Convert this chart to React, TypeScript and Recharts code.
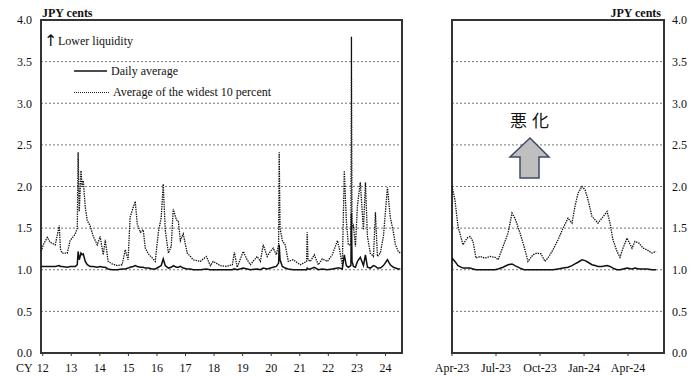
import React from 'react';
import { LineChart, Line, XAxis, YAxis, CartesianGrid, ReferenceArea } from 'recharts';

const FONT = '"Liberation Serif", "Times New Roman", serif';

// Left panel: calendar years (CY 2012 - mid 2024)
const leftT = [
  11.95, 12.02, 12.16, 12.26, 12.44, 12.58, 12.62, 12.68, 12.86, 12.96, 13.14, 13.21, 13.24, 13.28, 13.34, 13.38,
  13.42, 13.49, 13.56, 13.66, 13.77, 13.91, 14.01, 14.12, 14.19, 14.29, 14.43, 14.61, 14.78, 14.89, 14.99, 15.06,
  15.17, 15.24, 15.31, 15.42, 15.52, 15.59, 15.7, 15.84, 15.94, 16.05, 16.15, 16.22, 16.29, 16.4, 16.5, 16.57,
  16.68, 16.75, 16.82, 16.92, 17.06, 17.17, 17.27, 17.52, 17.73, 17.87, 17.97, 18.22, 18.43, 18.64, 18.71, 18.81,
  19.02, 19.16, 19.27, 19.51, 19.62, 19.72, 19.86, 19.97, 20.07, 20.18, 20.26, 20.28, 20.31, 20.39, 20.49, 20.6,
  20.77, 21.02, 21.24, 21.26, 21.29, 21.37, 21.51, 21.65, 21.79, 21.97, 22.14, 22.32, 22.39, 22.49, 22.56, 22.63,
  22.7, 22.79, 22.81, 22.83, 22.88, 22.95, 23.02, 23.12, 23.23, 23.3, 23.37, 23.47, 23.58, 23.65, 23.72, 23.82,
  23.93, 24.07, 24.17, 24.28, 24.35, 24.45, 24.52,
];
const leftWidest = [
  1.22, 1.3, 1.39, 1.33, 1.3, 1.53, 1.25, 1.2, 1.2, 1.35, 1.43, 1.5, 2.41, 1.7, 2.19, 2.0,
  2.07, 1.75, 1.59, 1.53, 1.4, 1.3, 1.4, 1.18, 1.36, 1.1, 1.07, 1.05, 1.06, 1.24, 1.12, 1.63,
  1.75, 1.82, 1.55, 1.45, 1.48, 1.26, 1.19, 1.14, 1.1, 1.45, 1.63, 2.03, 1.48, 1.2, 1.28, 1.73,
  1.6, 1.58, 1.35, 1.43, 1.2, 1.16, 1.12, 1.1, 1.16, 1.05, 1.1, 1.05, 1.04, 1.06, 1.21, 1.03,
  1.22, 1.12, 1.06, 1.16, 1.1, 1.3, 1.16, 1.22, 1.26, 1.18, 1.3, 2.41, 1.5, 1.35, 1.3, 1.1,
  1.12, 1.06, 1.1, 1.45, 1.12, 1.1, 1.18, 1.06, 1.13, 1.1, 1.18, 1.35, 1.25, 1.05, 2.19, 1.6,
  1.3, 1.3, 3.8, 1.5, 1.53, 1.28, 1.77, 2.05, 1.48, 2.05, 1.4, 1.2, 1.16, 1.69, 1.16, 1.2,
  1.4, 1.99, 1.63, 1.45, 1.3, 1.22, 1.2,
];
const leftDaily = [
  1.04, 1.04, 1.04, 1.04, 1.04, 1.05, 1.04, 1.04, 1.03, 1.04, 1.04, 1.06, 1.22, 1.12, 1.2, 1.18,
  1.19, 1.1, 1.06, 1.04, 1.04, 1.03, 1.04, 1.03, 1.03, 1.01, 1.0, 1.0, 1.01, 1.01, 1.02, 1.03,
  1.04, 1.05, 1.04, 1.03, 1.03, 1.02, 1.02, 1.01, 1.01, 1.03, 1.05, 1.13, 1.05, 1.02, 1.03, 1.05,
  1.03, 1.03, 1.04, 1.02, 1.01, 1.01, 1.0, 1.0, 1.01, 1.0, 1.0, 1.0, 1.0, 1.0, 1.01, 1.0,
  1.02, 1.01, 1.0, 1.01, 1.0, 1.02, 1.01, 1.02, 1.03, 1.04, 1.08, 1.3, 1.12, 1.04, 1.02, 1.01,
  1.0, 1.0, 1.0, 1.02, 1.01, 1.01, 1.03, 1.0, 1.01, 1.0, 1.01, 1.02, 1.02, 1.01, 1.18, 1.05,
  1.03, 1.05, 1.68, 1.1, 1.04, 1.03, 1.1, 1.15, 1.05, 1.18, 1.03, 1.02, 1.05, 1.04, 1.02, 1.02,
  1.05, 1.12, 1.06, 1.03, 1.02, 1.01, 1.01,
];
const yearTicks = [12, 13, 14, 15, 16, 17, 18, 19, 20, 21, 22, 23, 24];

// Right panel: months since April 2023
const rightM = [
  0, 0.2, 0.41, 0.75, 1.02, 1.23, 1.43, 1.64, 1.91, 2.25, 2.59, 2.93, 3.14, 3.48, 3.82, 4.09,
  4.29, 4.64, 4.91, 5.18, 5.52, 5.79, 6.07, 6.34, 6.61, 6.88, 7.23, 7.57, 7.91, 8.18, 8.38, 8.59,
  8.86, 9.07, 9.27, 9.54, 9.75, 9.95, 10.22, 10.57, 10.77, 10.97, 11.25, 11.45, 11.66, 11.93, 12.27, 12.47,
  12.75, 13.02, 13.29, 13.63, 13.91,
];
const rightWidest = [
  2.0, 1.84, 1.52, 1.3, 1.38, 1.4, 1.34, 1.14, 1.16, 1.14, 1.16, 1.15, 1.12, 1.28, 1.44, 1.68,
  1.62, 1.44, 1.28, 1.1, 1.18, 1.2, 1.19, 1.1, 1.16, 1.24, 1.36, 1.5, 1.62, 1.56, 1.76, 1.92,
  2.0, 1.96, 1.84, 1.64, 1.6, 1.56, 1.62, 1.7, 1.56, 1.36, 1.22, 1.15, 1.26, 1.38, 1.26, 1.34,
  1.32, 1.26, 1.24, 1.2, 1.22,
];
const rightDaily = [
  1.14, 1.1, 1.05, 1.02, 1.02, 1.02, 1.01, 1.0, 1.0, 1.0, 1.0, 1.0, 1.01, 1.03, 1.06, 1.07,
  1.05, 1.02, 1.0, 1.0, 1.0, 1.0, 1.0, 1.0, 1.0, 1.0, 1.01, 1.02, 1.03, 1.05, 1.07, 1.09,
  1.12, 1.11, 1.09, 1.06, 1.05, 1.04, 1.04, 1.05, 1.04, 1.02, 1.0, 1.0, 1.01, 1.02, 1.01, 1.02,
  1.01, 1.01, 1.01, 1.0, 1.0,
];
const monthTicks = [0, 3, 6, 9, 12];
const monthLabels = ['Apr-23', 'Jul-23', 'Oct-23', 'Jan-24', 'Apr-24'];

const yTicks = [0, 0.5, 1, 1.5, 2, 2.5, 3, 3.5, 4];

const leftRows = leftT.map((t, i) => ({ t, widest: leftWidest[i], daily: leftDaily[i] }));
const rightRows = rightM.map((m, i) => ({ m, widest: rightWidest[i], daily: rightDaily[i] }));

const tickStyle = { fill: '#111', fontSize: 12, fontFamily: FONT };

const LEFT_DOMAIN: [number, number] = [11.94, 24.58];
const RIGHT_DOMAIN: [number, number] = [0, 14.45];

const css = `.recharts-text, .recharts-cartesian-axis-tick-value { font-family: "Liberation Serif", "Times New Roman", serif !important; }`;

export default function App() {
  return (
    <div style={{ position: 'absolute', left: 0, top: 0, width: 692, height: 376, background: '#fff', fontFamily: FONT }}>
      <style>{css}</style>
      <div style={{ position: 'absolute', left: 0, top: 0 }}>
        <LineChart width={410} height={376} data={leftRows} margin={{ top: 20, right: 8, bottom: 0, left: 0 }} style={{ fontFamily: FONT }}>
          <CartesianGrid vertical={false} stroke="#777" strokeDasharray="2 2" />
          <XAxis
            type="number"
            dataKey="t"
            domain={LEFT_DOMAIN}
            allowDataOverflow
            ticks={yearTicks}
            tickFormatter={(v) => String(v)}
            height={23}
            axisLine={false}
            tickLine={{ stroke: '#333' }}
            tickSize={3}
            tickMargin={7}
            tick={tickStyle}
            interval={0}
          />
          <YAxis
            domain={[0, 4]}
            ticks={yTicks}
            tickFormatter={(v) => Number(v).toFixed(1)}
            width={41}
            axisLine={false}
            tickLine={false}
            tickSize={7}
            tick={tickStyle}
            interval={0}
          />
          <ReferenceArea x1={LEFT_DOMAIN[0]} x2={LEFT_DOMAIN[1]} y1={0} y2={4} fill="none" fillOpacity={0} stroke="#333" strokeWidth={2} ifOverflow="visible" />
          <Line type="linear" dataKey="widest" stroke="#111" strokeWidth={1.3} strokeDasharray="1.4 1" dot={false} isAnimationActive={false} />
          <Line type="linear" dataKey="daily" stroke="#111" strokeWidth={1.5} dot={false} isAnimationActive={false} />
        </LineChart>
      </div>
      <div style={{ position: 'absolute', left: 420, top: 0 }}>
        <LineChart width={272} height={376} data={rightRows} margin={{ top: 20, right: 0, bottom: 0, left: 32 }} style={{ fontFamily: FONT }}>
          <CartesianGrid vertical={false} stroke="#777" strokeDasharray="2 2" />
          <XAxis
            type="number"
            dataKey="m"
            domain={RIGHT_DOMAIN}
            allowDataOverflow
            ticks={monthTicks}
            tickFormatter={(v) => monthLabels[monthTicks.indexOf(v)] ?? ''}
            height={23}
            axisLine={false}
            tickLine={{ stroke: '#333' }}
            tickSize={3}
            tickMargin={7}
            tick={tickStyle}
            interval={0}
          />
          <YAxis
            orientation="right"
            domain={[0, 4]}
            ticks={yTicks}
            tickFormatter={(v) => Number(v).toFixed(1)}
            width={28}
            axisLine={false}
            tickLine={false}
            tickSize={6}
            tick={{ ...tickStyle, textAnchor: 'start' }}
            interval={0}
          />
          <ReferenceArea x1={RIGHT_DOMAIN[0]} x2={RIGHT_DOMAIN[1]} y1={0} y2={4} fill="none" fillOpacity={0} stroke="#333" strokeWidth={2} ifOverflow="visible" />
          <Line type="linear" dataKey="widest" stroke="#111" strokeWidth={1.3} strokeDasharray="1.4 1" dot={false} isAnimationActive={false} />
          <Line type="linear" dataKey="daily" stroke="#111" strokeWidth={1.5} dot={false} isAnimationActive={false} />
        </LineChart>
      </div>
      <svg width={692} height={376} style={{ position: 'absolute', left: 0, top: 0, pointerEvents: 'none' }}>
        <text x={42} y={17} fontSize={12} fontWeight="bold" fontFamily={FONT} fill="#111">JPY cents</text>
        <text x={661} y={17} fontSize={12} fontWeight="bold" fontFamily={FONT} fill="#111" textAnchor="end">JPY cents</text>
        <text x={16} y={372} fontSize={12} fontFamily={FONT} fill="#111">CY</text>
        <text x={44} y={46} fontSize={16} fontFamily='"DejaVu Sans", sans-serif' fill="#111">↑</text>
        <text x={58} y={45} fontSize={12} fontFamily={FONT} fill="#111">Lower liquidity</text>
        <line x1={74} x2={107} y1={71} y2={71} stroke="#111" strokeWidth={1.3} />
        <text x={111} y={75} fontSize={12} fontFamily={FONT} fill="#111">Daily average</text>
        <line x1={74} x2={109} y1={92.5} y2={92.5} stroke="#222" strokeWidth={1} strokeDasharray="1 1" />
        <text x={113} y={96} fontSize={12} fontFamily={FONT} fill="#111">Average of the widest 10 percent</text>
        <text x={510} y={127} fontSize={17} fontFamily='"Noto Sans CJK JP", sans-serif' fill="#111" letterSpacing={5}>悪化</text>
        <polygon points="530,138 549,157 539,157 539,178 520,178 520,157 510,157" fill="#bfbfbf" stroke="#3d4b66" strokeWidth={1.5} />
      </svg>
    </div>
  );
}
